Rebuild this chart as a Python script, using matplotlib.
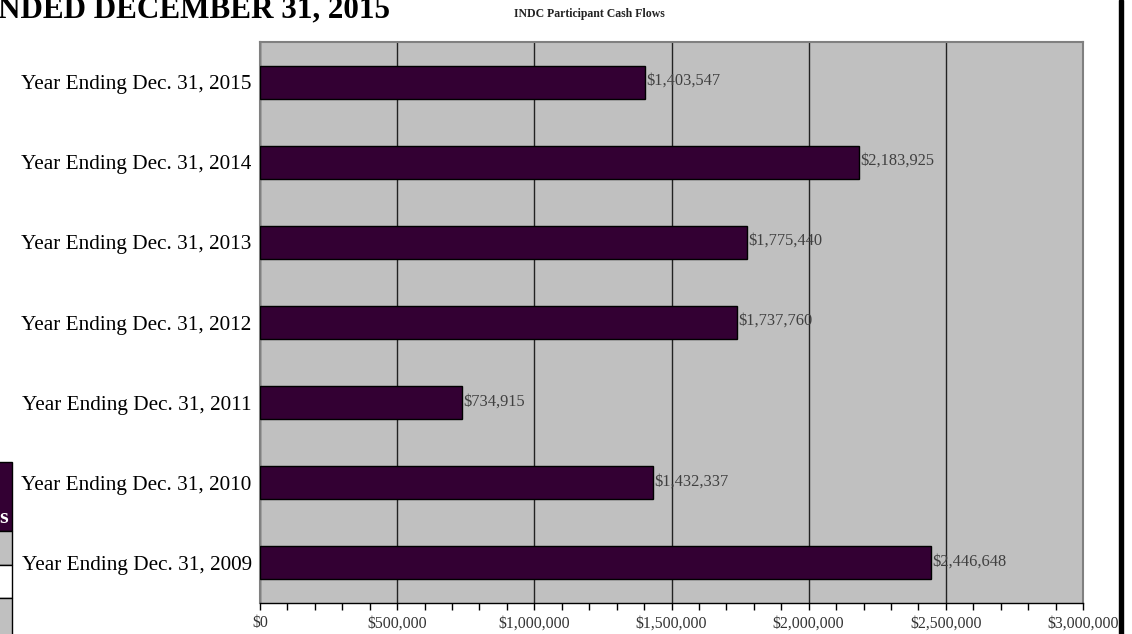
import matplotlib
matplotlib.use("Agg")
import matplotlib.pyplot as plt
from matplotlib.patches import Rectangle
from matplotlib.ticker import MultipleLocator, FuncFormatter

# ============ DATA ============
years = ["Year Ending Dec. 31, 2015", "Year Ending Dec. 31, 2014",
         "Year Ending Dec. 31, 2013", "Year Ending Dec. 31, 2012",
         "Year Ending Dec. 31, 2011", "Year Ending Dec. 31, 2010",
         "Year Ending Dec. 31, 2009"]
cash_flows = [1403547, 2183925, 1775440, 1737760, 734915, 1432337, 2446648]

chart_title = "INDC Participant Cash Flows"
page_heading = "NDED DECEMBER 31, 2015"

plt.rcParams['font.family'] = ['Liberation Serif', 'DejaVu Serif']

W, H = 1132, 634
fig = plt.figure(figsize=(W / 100, H / 100), dpi=100)

# ============ MAIN CHART ============
ax = fig.add_axes([260 / W, 1 - 603 / H, 823 / W, 561 / H])
ax.set_facecolor("#C0C0C0")

pos = list(range(len(years)))
ax.barh(pos, cash_flows, height=0.41, color="#330033", edgecolor="black",
        linewidth=1, zorder=3)
for p, v in zip(pos, cash_flows):
    ax.annotate(f"${v:,.0f}", (v, p), xytext=(1, 1), textcoords="offset points",
                va="center", ha="left", fontsize=11.8, color="#404040", zorder=4)

ax.set_xlim(0, 3000000)
ax.set_ylim(len(years) - 0.5, -0.5)
ax.set_yticks(pos)
ax.set_yticklabels(years, fontsize=15.3)
ax.tick_params(axis="y", length=0, pad=6)

ax.xaxis.set_major_locator(MultipleLocator(500000))
ax.xaxis.set_minor_locator(MultipleLocator(100000))
ax.xaxis.set_major_formatter(FuncFormatter(lambda x, _: f"${x:,.0f}"))
ax.tick_params(axis="x", which="both", direction="out", length=5, width=1,
               color="black", labelsize=11.4, labelcolor="#333333", pad=4)
ax.grid(axis="x", which="major", color="#222222", linewidth=1, zorder=1)
ax.set_axisbelow(True)

for side in ["top", "right", "left"]:
    ax.spines[side].set_color("#808080")
    ax.spines[side].set_linewidth(1.5)
ax.spines["bottom"].set_color("black")
ax.spines["bottom"].set_linewidth(1)

# ============ PAGE DECORATION ============
deco = fig.add_axes([0, 0, 1, 1], zorder=-1)
deco.set_xlim(0, W)
deco.set_ylim(H, 0)
deco.axis("off")

fig.text(589 / W, 1 - 14 / H, chart_title, ha="center", va="center",
         fontsize=8.5, fontweight="bold", color="#222222")
fig.text(-2 / W, 1 - 17 / H, page_heading, ha="left", va="baseline",
         fontsize=22.4, fontweight="bold", color="black")

# right page border line
deco.add_patch(Rectangle((1119, 0), 4, H, color="black"))

# partial table at bottom-left
deco.add_patch(Rectangle((-2, 462), 14, 69, facecolor="#330033", edgecolor="black", linewidth=1))
deco.add_patch(Rectangle((-2, 531), 14, 34, facecolor="#C0C0C0", edgecolor="black", linewidth=1))
deco.add_patch(Rectangle((-2, 565), 14, 33, facecolor="white", edgecolor="black", linewidth=1))
deco.add_patch(Rectangle((-2, 598), 14, 40, facecolor="#C0C0C0", edgecolor="black", linewidth=1))
deco.text(4, 518, "s", color="white", fontsize=16, fontweight="bold",
          ha="center", va="center")

fig.savefig("out.png", dpi=100)
